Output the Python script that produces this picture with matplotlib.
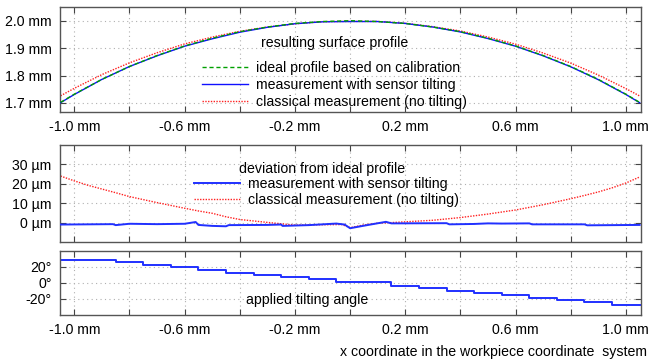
import numpy as np
import matplotlib
matplotlib.use("Agg")
import matplotlib.pyplot as plt
from matplotlib.ticker import FixedLocator

plt.rcParams['font.family'] = ['Liberation Sans', 'DejaVu Sans']
plt.rcParams['font.size'] = 10.2

# top panel: surface profile (mm)
prof_x = [-1.05, -1.0, -0.9, -0.8, -0.7, -0.6, -0.5, -0.4, -0.3, -0.2, -0.1, 0.0,
          0.1, 0.2, 0.3, 0.4, 0.5, 0.6, 0.7, 0.8, 0.9, 1.0, 1.05]
ideal_z = [1.702, 1.732, 1.786, 1.833, 1.873, 1.908, 1.936, 1.960, 1.977, 1.990, 1.997, 2.000,
           1.997, 1.990, 1.977, 1.960, 1.936, 1.908, 1.873, 1.833, 1.786, 1.732, 1.702]
tilt_z = [1.701, 1.731, 1.786, 1.833, 1.872, 1.907, 1.934, 1.958, 1.976, 1.989, 1.996, 1.997,
          1.997, 1.990, 1.977, 1.959, 1.935, 1.907, 1.872, 1.832, 1.785, 1.731, 1.701]
classic_z = [1.7260, 1.7535, 1.8035, 1.8464, 1.8832, 1.9154, 1.9402, 1.9614, 1.9770, 1.9886, 1.9965, 1.9975,
             1.9973, 1.9905, 1.9782, 1.9626, 1.9405, 1.9145, 1.8822, 1.8455, 1.8020, 1.7525, 1.7255]

# middle panel: deviation from ideal (um)
red_x = [-1.05, -1.0, -0.95, -0.9, -0.85, -0.8, -0.7, -0.6, -0.55, -0.5, -0.45, -0.4, -0.3, -0.2,
         -0.1, -0.03, 0.0, 0.05, 0.1, 0.15, 0.2, 0.3, 0.4, 0.5, 0.6, 0.7, 0.8, 0.85, 0.9, 0.95, 1.0, 1.05]
red_dev = [24.0, 21.5, 19.2, 17.3, 15.4, 13.4, 10.3, 7.4, 6.0, 4.8, 3.0, 1.6, 0.1, -1.3,
           -1.1, -1.0, -2.6, -1.2, -0.3, 0.0, 0.4, 1.2, 2.6, 4.4, 6.5, 9.2, 12.3, 14.0, 15.8, 17.9, 20.4, 23.5]
blue_x = [-1.05, -0.86, -0.85, -0.80, -0.70, -0.60, -0.56, -0.55, -0.50, -0.45, -0.44, -0.30, -0.25,
          -0.245, -0.15, -0.05, -0.02, 0.0, 0.05, 0.13, 0.15, 0.35, 0.36, 0.45, 0.50, 0.55, 0.65, 0.66,
          0.85, 0.86, 1.05]
blue_dev = [-1.0, -0.8, -1.3, -0.6, -0.8, -0.6, 0.3, -1.2, -1.7, -1.9, -1.3, -1.2, -1.0,
            -1.7, -1.3, -0.5, -1.0, -2.9, -1.6, 0.4, -0.4, -0.3, -0.9, -0.7, -0.4, -0.5, -0.4, -0.9,
            -0.9, -1.4, -1.2]

# bottom panel: tilting angle (deg), step edges
tilt_edges = [-1.05, -0.85, -0.75, -0.65, -0.55, -0.45, -0.35, -0.25, -0.15, -0.05,
              0.15, 0.25, 0.35, 0.45, 0.55, 0.65, 0.75, 0.85, 0.95, 1.055]
tilt_deg = [29, 26, 23, 19.5, 16.5, 13, 10.5, 7.5, 4.5, 1.5,
            -3.5, -6.5, -10, -12, -15.5, -18.5, -21, -24, -27.5]

xticks = [-1.0, -0.8, -0.6, -0.4, -0.2, 0.0, 0.2, 0.4, 0.6, 0.8, 1.0]
xlabels = ['-1.0 mm', '', '-0.6 mm', '', '-0.2 mm', '', '0.2 mm', '', '0.6 mm', '', '1.0 mm']

fig = plt.figure(figsize=(6.49, 3.61), dpi=100)
W, H = 649, 361
def box(l, t, r, b):
    return [l / W, 1 - b / H, (r - l) / W, (b - t) / H]

ax1 = fig.add_axes(box(60, 7, 641, 112))
ax2 = fig.add_axes(box(60, 145, 641, 242))
ax3 = fig.add_axes(box(60, 251, 641, 315))

for ax in (ax1, ax2, ax3):
    ax.set_xlim(-1.052, 1.055)
    ax.xaxis.set_major_locator(FixedLocator(xticks))
    ax.grid(True, color='#b0b0b0', linestyle=(0, (1, 3)), linewidth=0.8)
    ax.tick_params(direction='in', top=True, right=True, length=4, color='#444444',
                   labelsize=10.2, pad=6)
    for s in ax.spines.values():
        s.set_color('#555555')
        s.set_linewidth(1.0)

ax1.set_xticklabels(xlabels)
ax2.set_xticklabels([''] * len(xticks))
ax3.set_xticklabels(xlabels)

# top
ax1.plot(prof_x, ideal_z, color='#00a000', linestyle=(0, (3, 2)), linewidth=1.0, zorder=4,
         label='ideal profile based on calibration')
ax1.plot(prof_x, tilt_z, color='#1010ff', linewidth=1.0, zorder=3,
         label='measurement with sensor tilting')
ax1.plot(prof_x, classic_z, color='#ff2020', linestyle=(0, (1, 1)), linewidth=1.0, zorder=2,
         label='classical measurement (no tilting)')
ax1.set_ylim(1.667, 2.05)
ax1.set_yticks([1.7, 1.8, 1.9, 2.0])
ax1.set_yticklabels(['1.7 mm', '1.8 mm', '1.9 mm', '2.0 mm'])
ax1.text(0.473, 0.66, 'resulting surface profile', transform=ax1.transAxes,
         ha='center', va='center')
ax1.legend(loc='upper left', bbox_to_anchor=(0.245, 0.49), frameon=False, fontsize=10.2,
           handlelength=3.2, handletextpad=0.6, labelspacing=0.22, borderpad=0,
           borderaxespad=0)

# middle
ax2.plot(blue_x, blue_dev, color='#2030ff', linewidth=1.4, zorder=3,
         label='measurement with sensor tilting')
ax2.plot(red_x, red_dev, color='#ff2020', linestyle=(0, (1, 1)), linewidth=1.0, zorder=2,
         label='classical measurement (no tilting)')
ax2.set_ylim(-10, 40)
ax2.set_yticks([0, 10, 20, 30])
ax2.set_yticklabels(['0 µm', '10 µm', '20 µm', '30 µm'])
ax2.text(0.451, 0.755, 'deviation from ideal profile', transform=ax2.transAxes,
         ha='center', va='center')
ax2.legend(loc='upper left', bbox_to_anchor=(0.231, 0.67), frameon=False, fontsize=10.2,
           handlelength=3.2, handletextpad=0.6, labelspacing=0.15, borderpad=0,
           borderaxespad=0)

# bottom
ax3.plot(tilt_edges, tilt_deg + [tilt_deg[-1]], drawstyle='steps-post', color='#2030ff',
         linewidth=1.4)
ax3.set_ylim(-40, 40)
ax3.set_yticks([-20, 0, 20])
ax3.set_yticklabels(['-20°', '0°', '20°'])
ax3.text(0.425, 0.24, 'applied tilting angle', transform=ax3.transAxes, ha='center',
         va='center', fontsize=10.2)

fig.text(647 / W, 1 - 352 / H, 'x coordinate in the workpiece coordinate  system',
         ha='right', va='center', fontsize=10.2)

fig.savefig('out.png', dpi=100)
